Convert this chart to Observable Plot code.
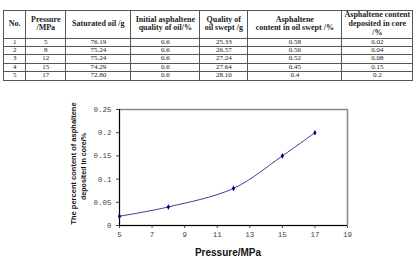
<!DOCTYPE html>
<html>
<head>
<meta charset="utf-8">
<script src="https://cdn.jsdelivr.net/npm/d3@7"></script>
<script src="https://cdn.jsdelivr.net/npm/@observablehq/plot@0.6"></script>
<style>
  html, body { margin:0; padding:0; background:#fff; width:415px; height:262px; overflow:hidden; position:relative; }
  table { position:absolute; left:3px; top:10px; width:409px; border-collapse:collapse; table-layout:fixed;
          font-family:"Liberation Serif", "Times New Roman", serif; color:#222; }
  th, td { border:1px solid #555; padding:0; text-align:center; vertical-align:middle; }
  th { font-size:8px; font-weight:bold; line-height:8.6px; height:26.5px; }
  td { font-size:7px; line-height:7.4px; height:7.4px; }
  #chart { position:absolute; left:0; top:90px; }
</style>
</head>
<body>
<div id="chart"></div>
<script>
// ---- data ----
const headers = ["No.", "Pressure<br>/MPa", "Saturated oil /g", "Initial asphaltene<br>quality of oil/%",
  "Quality of<br>oil swept /g", "Asphaltene<br>content in oil swept /%", "Asphaltene content<br>deposited in core<br>/%"];
const runNo = ["1", "2", "3", "4", "5"];
const pressure = [5, 8, 12, 15, 17];
const saturatedOil = ["76.19", "75.24", "75.24", "74.29", "72.80"];
const initialAsphaltene = ["0.6", "0.6", "0.6", "0.6", "0.6"];
const oilSwept = ["25.33", "26.57", "27.24", "27.64", "28.10"];
const asphalteneSwept = ["0.58", "0.56", "0.52", "0.45", "0.4"];
const deposited = [0.02, 0.04, 0.08, 0.15, 0.2];
const depositedLabels = ["0.02", "0.04", "0.08", "0.15", "0.2"];
const xTicks = [5, 7, 9, 11, 13, 15, 17, 19];
const yTicks = [0, 0.05, 0.1, 0.15, 0.2, 0.25];
const xTitle = "Pressure/MPa";
const yTitle = ["The percent content of asphaltene", "deposited in core/%"];

// ---- table ----
const colWidths = [22.3, 40, 65, 69, 48, 94, 71];
const table = d3.select("body").insert("table", "#chart");
table.append("colgroup").selectAll("col").data(colWidths).join("col").style("width", d => d + "px");
table.append("thead").append("tr").selectAll("th").data(headers).join("th").html(d => d);
const rows = runNo.map((n, i) => [n, String(pressure[i]), saturatedOil[i], initialAsphaltene[i], oilSwept[i], asphalteneSwept[i], depositedLabels[i]]);
table.append("tbody").selectAll("tr").data(rows).join("tr")
  .selectAll("td").data(d => d).join("td").text(d => d);

// ---- chart ----
const data = pressure.map((p, i) => ({p, v: deposited[i]}));
const W = 415, H = 172;
const chart = Plot.plot({
  width: W, height: H,
  marginTop: 19, marginBottom: 37, marginLeft: 119, marginRight: 68,
  style: {fontFamily: "'Liberation Mono', 'DejaVu Sans Mono', monospace", fontSize: "7.5px", color: "#444", background: "#fff"},
  x: {domain: [5, 19], ticks: xTicks, tickSize: 3, tickPadding: 3, label: null, tickFormat: d3.format("d")},
  y: {domain: [0, 0.25], ticks: yTicks, tickSize: 3, tickPadding: 5, label: null,
      tickFormat: d => d === 0 ? "0" : d3.format(".2~f")(d)},
  marks: [
    Plot.frame({stroke: "#888", strokeWidth: 1.5}),
    Plot.ruleX([5], {stroke: "#000", strokeWidth: 1}),
    Plot.ruleY([0], {stroke: "#000", strokeWidth: 1}),
    Plot.line(data, {x: "p", y: "v", curve: "catmull-rom", stroke: "#3c3c9c", strokeWidth: 1}),
    Plot.dot(data, {x: "p", y: "v", symbol: "diamond", r: 1.7, fill: "#000080", stroke: "none"})
  ]
});
document.getElementById("chart").appendChild(chart);

// axis titles
const svg = d3.select(chart);
svg.append("text").attr("x", 228).attr("y", 165.5).attr("text-anchor", "middle")
  .style("font-family", "'Liberation Sans', Arial, sans-serif").style("font-weight", "bold")
  .style("font-size", "10px").attr("fill", "#111").text(xTitle);
const yt = svg.append("g").style("font-family", "'Liberation Sans', Arial, sans-serif")
  .style("font-weight", "bold").attr("fill", "#111");
yt.append("text").attr("transform", "translate(76,73.5) rotate(-90)").attr("text-anchor", "middle")
  .style("font-size", "7.5px").text(yTitle[0]);
yt.append("text").attr("transform", "translate(86,76.5) rotate(-90)").attr("text-anchor", "middle")
  .style("font-size", "7.1px").text(yTitle[1]);
</script>
</body>
</html>
